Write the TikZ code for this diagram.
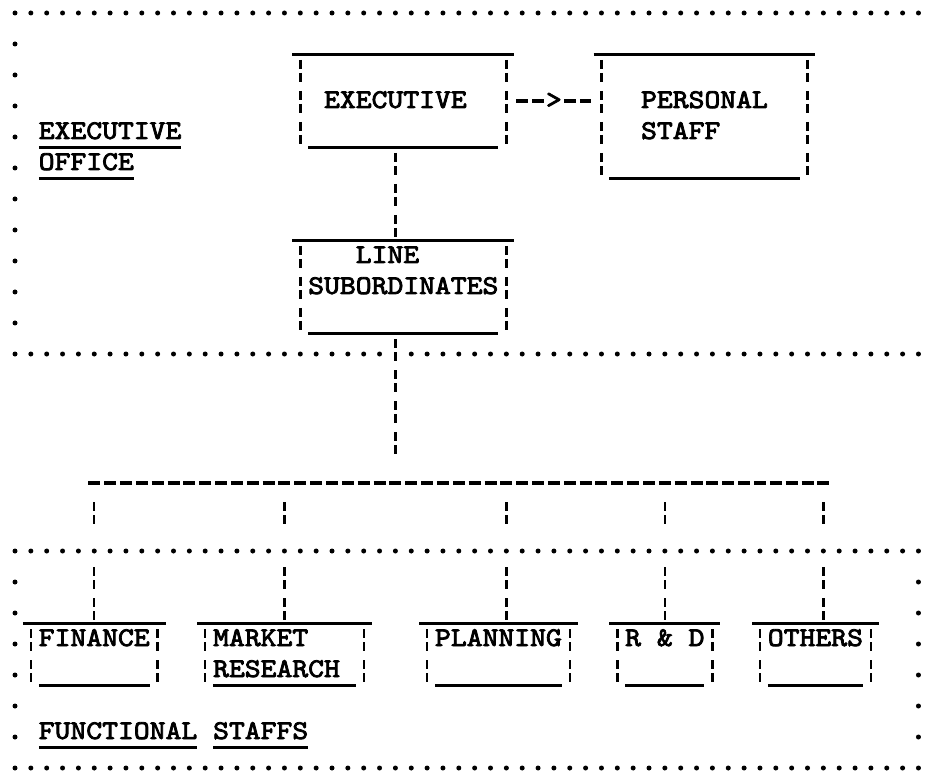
\documentclass[tikz,border=0pt]{standalone}
\usepackage{fontspec}
\newfontfamily\tyfont{lmmono10-regular.otf}[FakeStretch=1.118,FakeBold=3]
\tikzset{
  txt/.style={font=\tyfont\fontsize{27}{31}\selectfont, inner sep=0pt, outer sep=0pt, anchor=base west},
  uline/.style={line width=2.7pt},
  pipes/.style={line width=2.4pt, dash pattern=on 9pt off 4pt on 9pt off 9pt},
  droppipe/.style={line width=2.4pt, dash pattern=on 9pt off 4pt on 9pt off 43pt on 9pt off 4pt on 9pt off 9pt on 9pt off 4pt on 9pt off 200pt},
  hyph/.style={line width=3.2pt, dash pattern=on 12pt off 3.85pt},
  dotrow/.style={line width=5pt, line cap=round, dash pattern=on 0pt off 15.85pt},
  dotcol/.style={line width=5pt, line cap=round, dash pattern=on 0pt off 31pt},
  boxarea/.style={inner sep=0pt, outer sep=0pt, draw=none, rectangle}
}
% name, first col, last col, top row dot y, bottom row dot y
\newcommand\tybox[5]{%
  \node[boxarea, minimum width={(#3-#2+1)*15.85pt}, minimum height={(#5-#4)*1pt}] (#1) at ({(#2+#3)/2}, {(#4+#5)/2+10.5}) {};
  \draw[uline] (#1.north west) -- (#1.north east);
  \draw[uline] ([xshift=15.85pt]#1.south west) -- ([xshift=-15.85pt]#1.south east);
  \draw[pipes] ([xshift=7.925pt,yshift=-5.5pt]#1.north west) -- ([xshift=7.925pt,yshift=3.5pt]#1.south west);
  \draw[pipes] ([xshift=-7.925pt,yshift=-5.5pt]#1.north east) -- ([xshift=-7.925pt,yshift=3.5pt]#1.south east);
}
\begin{document}
\begin{tikzpicture}[x=15.85pt, y=-1pt, shift={(15pt,0pt)}]
\fill[white] (-0.94637,0) rectangle (57.7918,775);
\useasboundingbox (-0.94637,0) rectangle (57.7918,775);

% dotted borders
\draw[dotrow] (0,13) -- (57.01,13);
\draw[dotrow] (0,354) -- (23.01,354);
\draw[dotrow] (25,354) -- (57.01,354);
\draw[dotrow] (0,551) -- (57.01,551);
\draw[dotrow] (0,768) -- (57.01,768);
\draw[dotcol] (0,44) -- (0,323.1);
\draw[dotcol] (0,582) -- (0,737.1);
\draw[dotcol] (57,582) -- (57,737.1);

% boxes
\tybox{execbox}{18}{31}{44}{137}
\tybox{persbox}{37}{50}{44}{168}
\tybox{linebox}{18}{31}{230}{323}
\tybox{finbox}{1}{9}{613}{675}
\tybox{mktbox}{12}{22}{613}{675}
\tybox{planbox}{26}{35}{613}{675}
\tybox{rdbox}{38}{44}{613}{675}
\tybox{othbox}{47}{54}{613}{675}

% texts
\node[txt] (t_exec) at (19.5,108) {EXECUTIVE};
\node[txt] (t_pers1) at (39.5,108) {PERSONAL};
\node[txt] (t_pers2) at (39.5,139) {STAFF};
\node[txt] (t_line1) at (21.5,263) {LINE};
\node[txt] (t_line2) at (18.5,294) {SUBORDINATES};
\node[txt] (t_fin) at (1.5,646) {FINANCE};
\node[txt] (t_mkt1) at (12.5,646) {MARKET};
\node[txt] (t_mkt2) at (12.5,677) {RESEARCH};
\node[txt] (t_plan) at (26.5,646) {PLANNING};
\node[txt] (t_rd) at (38.5,646) {R \& D};
\node[txt] (t_oth) at (47.5,646) {OTHERS};

% region labels
\node[txt] (lab_exec) at (1.5,139) {EXECUTIVE};
\node[txt] (lab_office) at (1.5,170) {OFFICE};
\node[txt] (lab_fun) at (1.5,739) {FUNCTIONAL};
\node[txt] (lab_staffs) at (12.5,739) {STAFFS};
\foreach \n in {lab_exec,lab_office,lab_fun,lab_staffs}
  \draw[uline] ([yshift=-8.5pt]\n.base west) -- ([yshift=-8.5pt]\n.base east);

% executive -> personal staff
\node[txt] (gt) at (33.5,108) {>};
\coordinate (a1) at (gt.base west |- execbox.east);
\coordinate (a2) at (gt.base east |- execbox.east);
\coordinate (a3) at (persbox.west |- execbox.east);
\draw[hyph] ([xshift=2.2pt]execbox.east) -- ([xshift=-2.2pt]a1);
\draw[hyph] ([xshift=2.2pt]a2) -- ([xshift=-2.2pt]a3);

% executive -> line subordinates
\draw[pipes, shorten <=5.5pt, shorten >=3.5pt] ([xshift=-7.925pt]execbox.south) -- ([xshift=-7.925pt]linebox.north);

% bus
\coordinate (b5) at (5,483);
\coordinate (b17) at (17,483);
\coordinate (b24) at (24,483);
\coordinate (b31) at (31,483);
\coordinate (b41) at (41,483);
\coordinate (b51) at (51,483);
\draw[hyph] ([xshift=-6pt]b5) -- ([xshift=6pt]b51);
\draw[pipes, shorten <=5.5pt, shorten >=26pt] ([xshift=-7.925pt]linebox.south) -- (b24);

% drops to functional staffs
\draw[droppipe, shorten <=19pt, shorten >=3.5pt] (b5) -- (b5 |- finbox.north);
\draw[droppipe, shorten <=19pt, shorten >=3.5pt] (b17) -- (b17 |- mktbox.north);
\draw[droppipe, shorten <=19pt, shorten >=3.5pt] (b31) -- (b31 |- planbox.north);
\draw[droppipe, shorten <=19pt, shorten >=3.5pt] (b41) -- (b41 |- rdbox.north);
\draw[droppipe, shorten <=19pt, shorten >=3.5pt] (b51) -- (b51 |- othbox.north);
\end{tikzpicture}
\end{document}
